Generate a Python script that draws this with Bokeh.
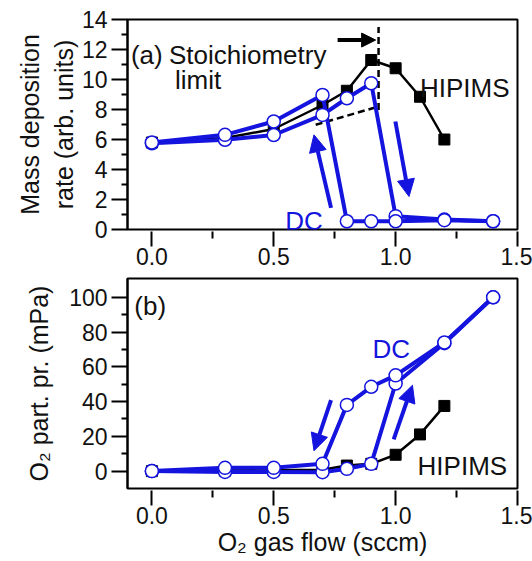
from bokeh.plotting import figure
from bokeh.layouts import column
from bokeh.models import (Range1d, FixedTicker, NumeralTickFormatter, Arrow, NormalHead)
from bokeh.core.properties import value
from bokeh.embed import file_html
from bokeh.resources import INLINE

# ---------------- data ----------------
flow_hip = [0.0, 0.3, 0.5, 0.7, 0.8, 0.9, 1.0, 1.1, 1.2]
rate_hip = [5.8, 6.1, 6.7, 8.3, 9.25, 11.3, 10.75, 8.85, 6.0]
press_hip = [0.0, 0.3, 0.5, 0.8, 3.2, 4.2, 9.4, 21.1, 37.5]

flow_dc_up = [0.0, 0.3, 0.5, 0.7, 0.8, 0.9, 1.0, 1.2, 1.4]
rate_dc_up = [5.75, 5.98, 6.3, 7.64, 8.75, 9.75, 0.89, 0.66, 0.55]
press_dc_up = [0.0, -0.5, -0.5, -0.6, 1.3, 4.2, 50.4, 73.6, 100.0]

flow_dc_down = [1.4, 1.2, 1.0, 0.9, 0.8, 0.7, 0.5, 0.3, 0.0]
rate_dc_down = [0.55, 0.62, 0.55, 0.55, 0.55, 8.97, 7.2, 6.31, 5.8]
press_dc_down = [100.0, 74.0, 55.1, 48.5, 38.1, 4.2, 1.9, 1.9, 0.0]

x_ticks = [0.0, 0.5, 1.0, 1.5]
x_minor = [0.25, 0.75, 1.25]
rate_ticks = [0, 2, 4, 6, 8, 10, 12, 14]
rate_minor = [1, 3, 5, 7, 9, 11, 13]
press_ticks = [0, 20, 40, 60, 80, 100]
press_minor = [10, 30, 50, 70, 90]

BLUE = "#1414de"
FONT = "Liberation Sans"


def style(p, yt, ym, ylabel, ylabel_standoff, xlabel=None):
    p.outline_line_color = "black"
    p.outline_line_width = 2
    p.xgrid.grid_line_color = None
    p.ygrid.grid_line_color = None
    p.background_fill_color = "white"
    p.border_fill_color = "white"
    xa = p.xaxis[0]
    xa.ticker = FixedTicker(ticks=x_ticks, minor_ticks=x_minor)
    xa.formatter = NumeralTickFormatter(format="0.0")
    xa.axis_line_color = None
    xa.major_tick_in = -2
    xa.major_tick_out = 17
    xa.minor_tick_in = -2
    xa.minor_tick_out = 9
    xa.major_tick_line_width = 2
    xa.minor_tick_line_width = 2
    xa.major_label_text_font = FONT
    xa.major_label_text_font_size = "23px"
    xa.major_label_text_color = "#111111"
    xa.major_label_standoff = 1
    if xlabel:
        xa.axis_label = xlabel
        xa.axis_label_text_font = FONT
        xa.axis_label_text_font_size = "25px"
        xa.axis_label_text_font_style = "normal"
        xa.axis_label_text_color = "#111111"
        xa.axis_label_standoff = 1
    ya = p.yaxis[0]
    ya.ticker = FixedTicker(ticks=yt, minor_ticks=ym)
    ya.axis_line_width = 2
    ya.major_tick_in = 0
    ya.major_tick_out = 16
    ya.minor_tick_in = 0
    ya.minor_tick_out = 6
    ya.major_tick_line_width = 2
    ya.minor_tick_line_width = 2
    ya.major_label_text_font = FONT
    ya.major_label_text_font_size = "23px"
    ya.major_label_text_color = "#111111"
    ya.major_label_standoff = 4
    ya.axis_label = ylabel
    ya.axis_label_text_font = FONT
    ya.axis_label_text_font_size = "25px"
    ya.axis_label_text_font_style = "normal"
    ya.axis_label_text_color = "#111111"
    ya.axis_label_standoff = ylabel_standoff


def label(p, x, y, txt, color="#111111", size="26px"):
    p.text(x=[x], y=[y], text=[txt], text_font=value(FONT), text_font_size=size,
           text_color=color, text_align="left", text_baseline="alphabetic")


def arrow(p, x0, y0, x1, y1, color, lw, size):
    p.add_layout(Arrow(end=NormalHead(size=size, fill_color=color, line_color=color),
                       x_start=x0, y_start=y0, x_end=x1, y_end=y1,
                       line_color=color, line_width=lw))


# ---------------- panel (a) ----------------
p1 = figure(frame_width=390, frame_height=210, min_border_left=127, min_border_right=15,
            min_border_top=19, min_border_bottom=47,
            x_range=Range1d(-0.1, 1.5), y_range=Range1d(0, 14),
            output_backend="svg", toolbar_location=None)
style(p1, rate_ticks, rate_minor, "Mass deposition\nrate (arb. units)", 1)

# reference dashed lines (stoichiometry limit)
p1.line([0.672, 0.93], [6.98, 8.2], line_color="black", line_width=2.5, line_dash="7 4")
p1.line([0.93, 0.93], [7.97, 13.5], line_color="black", line_width=2.5, line_dash="7 4")

p1.line(flow_hip, rate_hip, line_color="black", line_width=2.5)
p1.scatter(flow_hip, rate_hip, marker="square", size=11, fill_color="black", line_color="black")

p1.line(flow_dc_up, rate_dc_up, line_color=BLUE, line_width=4)
p1.line(flow_dc_down, rate_dc_down, line_color=BLUE, line_width=4)
p1.scatter(flow_dc_up + flow_dc_down, rate_dc_up + rate_dc_down, marker="circle", size=13,
           fill_color="white", line_color=BLUE, line_width=1.5)

arrow(p1, 0.735, 1.44, 0.665, 6.31, BLUE, 4, 17)
arrow(p1, 0.999, 7.2, 1.055, 2.2, BLUE, 4, 17)
arrow(p1, 0.762, 12.63, 0.918, 12.63, "black", 4, 14)

label(p1, -0.086, 11.63, "(a)")
label(p1, 0.07, 11.63, "Stoichiometry")
label(p1, 0.095, 9.97, "limit")
label(p1, 1.10, 9.41, "HIPIMS")
label(p1, 0.547, 0.55, "DC", color=BLUE)

# ---------------- panel (b) ----------------
p2 = figure(frame_width=390, frame_height=210, min_border_left=127, min_border_right=15,
            min_border_top=2, min_border_bottom=73,
            x_range=Range1d(-0.1, 1.5), y_range=Range1d(-10, 110.8),
            output_backend="svg", toolbar_location=None)
style(p2, press_ticks, press_minor, "O\u2082 part. pr. (mPa)", 13, xlabel="O\u2082 gas flow (sccm)")

p2.line(flow_hip, press_hip, line_color="black", line_width=2.5)
p2.scatter(flow_hip, press_hip, marker="square", size=11, fill_color="black", line_color="black")

p2.line(flow_dc_up, press_dc_up, line_color=BLUE, line_width=4)
p2.line(flow_dc_down, press_dc_down, line_color=BLUE, line_width=4)
p2.scatter(flow_dc_up + flow_dc_down, press_dc_up + press_dc_down, marker="circle", size=13,
           fill_color="white", line_color=BLUE, line_width=1.5)

arrow(p2, 0.735, 40.9, 0.665, 11.7, BLUE, 4, 17)
arrow(p2, 0.992, 18.3, 1.069, 49.4, BLUE, 4, 17)

label(p2, -0.072, 94.7, "(b)")
label(p2, 0.905, 70.2, "DC", color=BLUE)
label(p2, 1.09, 3.2, "HIPIMS")

layout = column(p1, p2, spacing=0)
open("out.html", "w").write(file_html(layout, INLINE))
